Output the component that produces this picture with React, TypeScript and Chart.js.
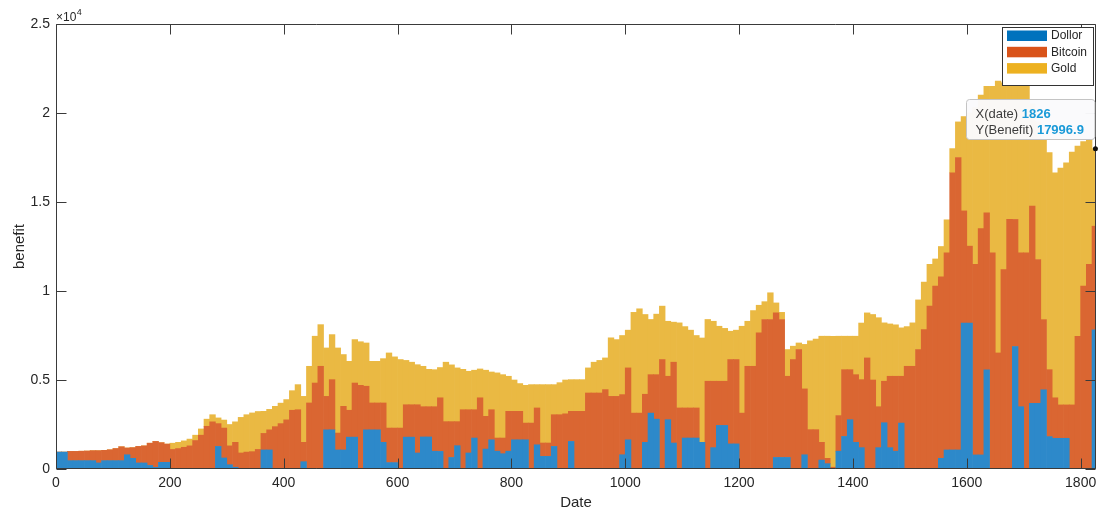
import React, { useEffect, useRef } from "react";
import { Chart, registerables } from "chart.js";

Chart.register(...registerables);

// Start day of each 10-day bin
const binStarts = [
  0, 10, 20, 30, 40, 50, 60, 70, 80, 90,
  100, 110, 120, 130, 140, 150, 160, 170, 180, 190,
  200, 210, 220, 230, 240, 250, 260, 270, 280, 290,
  300, 310, 320, 330, 340, 350, 360, 370, 380, 390,
  400, 410, 420, 430, 440, 450, 460, 470, 480, 490,
  500, 510, 520, 530, 540, 550, 560, 570, 580, 590,
  600, 610, 620, 630, 640, 650, 660, 670, 680, 690,
  700, 710, 720, 730, 740, 750, 760, 770, 780, 790,
  800, 810, 820, 830, 840, 850, 860, 870, 880, 890,
  900, 910, 920, 930, 940, 950, 960, 970, 980, 990,
  1000, 1010, 1020, 1030, 1040, 1050, 1060, 1070, 1080, 1090,
  1100, 1110, 1120, 1130, 1140, 1150, 1160, 1170, 1180, 1190,
  1200, 1210, 1220, 1230, 1240, 1250, 1260, 1270, 1280, 1290,
  1300, 1310, 1320, 1330, 1340, 1350, 1360, 1370, 1380, 1390,
  1400, 1410, 1420, 1430, 1440, 1450, 1460, 1470, 1480, 1490,
  1500, 1510, 1520, 1530, 1540, 1550, 1560, 1570, 1580, 1590,
  1600, 1610, 1620, 1630, 1640, 1650, 1660, 1670, 1680, 1690,
  1700, 1710, 1720, 1730, 1740, 1750, 1760, 1770, 1780, 1790,
  1800, 1810, 1820,
];
const binWidth = 10;

const dollar = [
  950, 950, 470, 470, 470, 470, 470, 340, 470, 470,
  470, 470, 800, 600, 340, 340, 200, 95, 375, 375,
  0, 0, 0, 0, 0, 0, 0, 0, 1270, 620,
  240, 100, 0, 0, 0, 0, 1070, 1070, 0, 0,
  0, 0, 0, 410, 0, 0, 0, 2200, 2200, 1070,
  1070, 1790, 1790, 0, 2200, 2200, 2200, 1500, 360, 360,
  0, 1790, 1790, 900, 1800, 1800, 1000, 990, 0, 650,
  1310, 0, 900, 1740, 0, 1120, 1640, 1000, 860, 1000,
  1640, 1640, 1640, 0, 1360, 710, 710, 1270, 0, 0,
  1550, 0, 0, 0, 0, 0, 0, 0, 0, 800,
  1640, 0, 0, 1500, 3140, 2800, 0, 2770, 1460, 0,
  1740, 1740, 1740, 1500, 0, 1200, 2450, 2450, 1410, 1410,
  0, 0, 0, 0, 0, 0, 650, 650, 650, 0,
  0, 800, 0, 0, 500, 300, 0, 1000, 1830, 2770,
  1500, 1200, 0, 0, 1200, 2600, 1200, 1000, 2580, 0,
  0, 0, 0, 0, 0, 600, 1070, 1070, 1070, 8200,
  8200, 790, 790, 5570, 0, 0, 0, 0, 6880, 3500,
  0, 3690, 3690, 4450, 1820, 1725, 1725, 1725, 0, 0,
  0, 0, 7825,
];

const bitcoin = [
  0, 0, 520, 520, 530, 540, 560, 690, 580, 610,
  680, 780, 380, 600, 930, 960, 1250, 1455, 1105, 1025,
  1100, 1150, 1220, 1300, 1600, 1900, 2400, 2650, 1280, 1680,
  1060, 1400, 900, 950, 975, 1100, 930, 1130, 2380, 2550,
  2760, 3300, 3330, 1090, 3710, 4830, 5770, 1880, 2820, 950,
  2450, 1510, 3040, 4700, 2450, 1510, 1510, 2210, 1940, 1940,
  2300, 1820, 1820, 2710, 1700, 1700, 2500, 3010, 2660, 2010,
  1350, 3330, 2430, 1590, 4000, 1840, 1690, 740, 880, 2240,
  1600, 1600, 940, 2580, 2070, 750, 750, 1780, 3050, 3100,
  1690, 3240, 3240, 4270, 4270, 4270, 4460, 4080, 4080, 3380,
  4040, 3140, 3140, 2700, 2160, 2500, 6150, 2440, 4540, 3430,
  1690, 1690, 1690, 0, 4930, 3730, 2480, 2480, 4740, 4740,
  3140, 5770, 5770, 7650, 8400, 8400, 8120, 7750, 4560, 6150,
  6710, 3700, 2210, 2210, 1000, 300, 100, 2000, 3750, 2810,
  3800, 3820, 6240, 5000, 2300, 2330, 4010, 4210, 2630, 5770,
  5770, 6710, 7830, 9150, 10270, 10200, 11070, 15570, 16430, 6300,
  4320, 10710, 12710, 8820, 12140, 6520, 11200, 14020, 7140, 8640,
  12140, 11080, 8080, 3940, 3760, 2275, 1875, 1875, 3600, 7450,
  10270, 11500, 5815,
];

const gold = [
  0, 0, 0, 0, 0, 0, 0, 0, 0, 0,
  0, 0, 0, 0, 0, 0, 0, 0, 0, 0,
  350, 350, 360, 380, 300, 350, 400, 400, 320, 450,
  1200, 1150, 2000, 2100, 2175, 2130, 1240, 1150, 1140, 1150,
  1140, 1100, 1410, 2580, 2060, 2630, 2340, 2720, 2530, 4780,
  2910, 2750, 2440, 2450, 2430, 2340, 2340, 2490, 4220, 4000,
  3850, 2490, 2390, 2250, 2270, 2100, 2080, 1700, 3340, 3190,
  3020, 2270, 2160, 2220, 1620, 2590, 2120, 3660, 3560, 1970,
  1760, 1560, 2120, 2160, 1310, 3280, 3280, 1690, 1800, 1900,
  1780, 1780, 1780, 1410, 1730, 1830, 1780, 3290, 3190, 3320,
  2120, 5660, 5860, 4480, 3100, 3400, 3000, 3090, 2250, 4780,
  4570, 4370, 4070, 5860, 3470, 3370, 3090, 2970, 1590, 1650,
  4880, 2530, 3130, 1550, 1000, 1500, 560, 400, 1500, 750,
  370, 2500, 4990, 5090, 5960, 6860, 7360, 4460, 1880, 1880,
  2160, 3180, 2530, 3680, 5000, 3280, 2940, 2890, 2720, 2230,
  2440, 2790, 2670, 2350, 1530, 1700, 1860, 1360, 2000, 5300,
  7480, 8800, 7500, 7110, 9360, 15280, 10500, 7980, 7780, 9860,
  9940, 5730, 7730, 10110, 12190, 12640, 13300, 13600, 14200, 10690,
  8130, 7020, 4357,
];

const seriesNames = ["Dollor", "Bitcoin", "Gold"];
const xTicks = [0, 200, 400, 600, 800, 1000, 1200, 1400, 1600, 1800];
const xTickLabels = ["0", "200", "400", "600", "800", "1000", "1200", "1400", "1600", "1800"];
const yTicks = [0, 5000, 10000, 15000, 20000, 25000];
const yTickLabels = ["0", "0.5", "1", "1.5", "2", "2.5"];
const xMax = 1827;
const yMax = 25000;
const tipDate = 1826;
const tipBenefit = 17996.9;

const barColors = ["#2d89ca", "#da6632", "#eab943"];
const legendColors = ["#0072BD", "#D95319", "#EDB120"];
const FONT = '"Liberation Sans", Arial, Helvetica, sans-serif';
const TEXT = "#262626";

const matlabPlugin = {
  id: "matlabDecor",
  afterDraw(chart: any) {
    const { ctx, chartArea: a, scales } = chart;
    const x = scales.x;
    const y = scales.y;
    const L = Math.round(a.left) + 0.5;
    const R = Math.round(a.right) - 0.5;
    const T = Math.round(a.top) + 0.5;
    const B = Math.round(a.bottom) - 0.5;
    ctx.save();
    ctx.strokeStyle = "#3a3a3a";
    ctx.lineWidth = 1;
    const line = (x1: number, y1: number, x2: number, y2: number) => {
      ctx.beginPath();
      ctx.moveTo(x1, y1);
      ctx.lineTo(x2, y2);
      ctx.stroke();
    };
    line(L, T, R, T);
    line(R, T, R, B);
    line(L, B, R, B);
    line(L, T, L, B);
    const tl = 10;
    xTicks.forEach((v) => {
      const px = Math.round(x.getPixelForValue(v)) + 0.5;
      line(px, B, px, B - tl);
      line(px, T, px, T + tl);
    });
    yTicks.forEach((v) => {
      const py = Math.round(y.getPixelForValue(v)) + 0.5;
      line(L, py, L + tl, py);
      line(R, py, R - tl, py);
    });

    // exponent
    ctx.fillStyle = TEXT;
    ctx.textAlign = "left";
    ctx.textBaseline = "alphabetic";
    ctx.font = `12px ${FONT}`;
    ctx.fillText("\u00d710", a.left, a.top - 3);
    const w10 = ctx.measureText("\u00d710").width;
    ctx.font = `9px ${FONT}`;
    ctx.fillText("4", a.left + w10 + 0.5, a.top - 9);

    // axis titles
    ctx.font = `15px ${FONT}`;
    ctx.textAlign = "center";
    ctx.textBaseline = "middle";
    ctx.fillText("Date", (a.left + a.right) / 2, 503);
    ctx.save();
    ctx.translate(20, (a.top + a.bottom) / 2);
    ctx.rotate(-Math.PI / 2);
    ctx.fillText("benefit", 0, 0);
    ctx.restore();

    // legend
    const lx = 1002, ly = 27, lw = 91, lh = 58;
    ctx.fillStyle = "#ffffff";
    ctx.fillRect(lx, ly, lw, lh);
    ctx.strokeStyle = "#333333";
    ctx.strokeRect(lx + 0.5, ly + 0.5, lw, lh);
    ctx.font = `12px ${FONT}`;
    ctx.textAlign = "left";
    ctx.textBaseline = "middle";
    seriesNames.forEach((name, i) => {
      const cy = ly + 8.5 + i * 16.3;
      ctx.fillStyle = legendColors[i];
      ctx.fillRect(lx + 5, cy - 5, 40, 10.5);
      ctx.fillStyle = TEXT;
      ctx.fillText(name, lx + 49, cy + 0.5);
    });

    // datatip
    const px = x.getPixelForValue(tipDate);
    const py = y.getPixelForValue(tipBenefit);
    ctx.font = `13px ${FONT}`;
    const l1a = "X(date) ";
    const l1b = String(tipDate);
    const l2a = "Y(Benefit) ";
    const l2b = String(tipBenefit);
    const wa1 = ctx.measureText(l1a).width;
    const wa2 = ctx.measureText(l2a).width;
    ctx.font = `bold 13px ${FONT}`;
    const wb1 = ctx.measureText(l1b).width;
    const wb2 = ctx.measureText(l2b).width;
    const bw = Math.max(wa1 + wb1, wa2 + wb2) + 20;
    const bh = 40;
    const bx = Math.round(px - 1 - bw) + 0.5;
    const by = Math.round(py - 10 - bh) + 0.5;
    ctx.beginPath();
    const r = 3;
    ctx.moveTo(bx + r, by);
    ctx.lineTo(bx + bw - r, by);
    ctx.arcTo(bx + bw, by, bx + bw, by + r, r);
    ctx.lineTo(bx + bw, by + bh - r);
    ctx.arcTo(bx + bw, by + bh, bx + bw - r, by + bh, r);
    ctx.lineTo(bx + r, by + bh);
    ctx.arcTo(bx, by + bh, bx, by + bh - r, r);
    ctx.lineTo(bx, by + r);
    ctx.arcTo(bx, by, bx + r, by, r);
    ctx.closePath();
    ctx.fillStyle = "rgba(250,250,252,0.97)";
    ctx.fill();
    ctx.strokeStyle = "#c4c4c4";
    ctx.stroke();
    ctx.textAlign = "left";
    ctx.textBaseline = "alphabetic";
    const tx = bx + 9;
    ctx.font = `13px ${FONT}`;
    ctx.fillStyle = "#3c3c3c";
    ctx.fillText(l1a, tx, by + 18);
    ctx.fillText(l2a, tx, by + 34);
    ctx.font = `bold 13px ${FONT}`;
    ctx.fillStyle = "#1a9ad8";
    ctx.fillText(l1b, tx + wa1, by + 18);
    ctx.fillText(l2b, tx + wa2, by + 34);

    // data point marker
    ctx.beginPath();
    ctx.arc(px, py, 2.5, 0, Math.PI * 2);
    ctx.fillStyle = "#111111";
    ctx.fill();
    ctx.restore();
  },
};

export default function App() {
  const canvasRef = useRef<HTMLCanvasElement | null>(null);

  useEffect(() => {
    document.body.style.margin = "0";
    const canvas = canvasRef.current;
    if (!canvas) return;
    const series = [dollar, bitcoin, gold];
    const chart = new Chart(canvas, {
      type: "bar",
      data: {
        datasets: series.map((vals, k) => ({
          label: seriesNames[k],
          data: binStarts.map((d, i) => ({ x: d + binWidth / 2, y: vals[i] })),
          backgroundColor: barColors[k],
          borderWidth: 0,
          barPercentage: 1,
          categoryPercentage: 1,
        })),
      },
      options: {
        responsive: false,
        animation: false,
        devicePixelRatio: 1,
        layout: { padding: { left: 0, right: 3, top: 24, bottom: 0 } },
        plugins: {
          legend: { display: false },
          tooltip: { enabled: false },
        },
        scales: {
          x: {
            type: "linear",
            stacked: true,
            min: 0,
            max: xMax,
            offset: false,
            grid: { display: false, drawTicks: false },
            border: { display: false },
            ticks: {
              autoSkip: false,
              maxRotation: 0,
              padding: 6,
              color: TEXT,
              font: { family: FONT, size: 14 },
              callback: (v: any) => {
                const i = xTicks.indexOf(Number(v));
                return i >= 0 ? xTickLabels[i] : "";
              },
            },
            afterBuildTicks: (s: any) => {
              s.ticks = xTicks.map((v) => ({ value: v }));
            },
            afterFit: (s: any) => {
              s.height = 42;
              s.paddingLeft = 0;
              s.paddingRight = 0;
            },
          },
          y: {
            stacked: true,
            min: 0,
            max: yMax,
            grid: { display: false, drawTicks: false },
            border: { display: false },
            ticks: {
              autoSkip: false,
              padding: 6,
              color: TEXT,
              font: { family: FONT, size: 14 },
              callback: (v: any) => {
                const i = yTicks.indexOf(Number(v));
                return i >= 0 ? yTickLabels[i] : "";
              },
            },
            afterBuildTicks: (s: any) => {
              s.ticks = yTicks.map((v) => ({ value: v }));
            },
            afterFit: (s: any) => {
              s.width = 56;
              s.paddingTop = 0;
              s.paddingBottom = 0;
            },
          },
        },
      },
      plugins: [matlabPlugin],
    } as any);
    return () => chart.destroy();
  }, []);

  return (
    <div style={{ width: 1099, height: 511, background: "#fff" }}>
      <canvas ref={canvasRef} width={1099} height={511} style={{ display: "block" }} />
    </div>
  );
}
